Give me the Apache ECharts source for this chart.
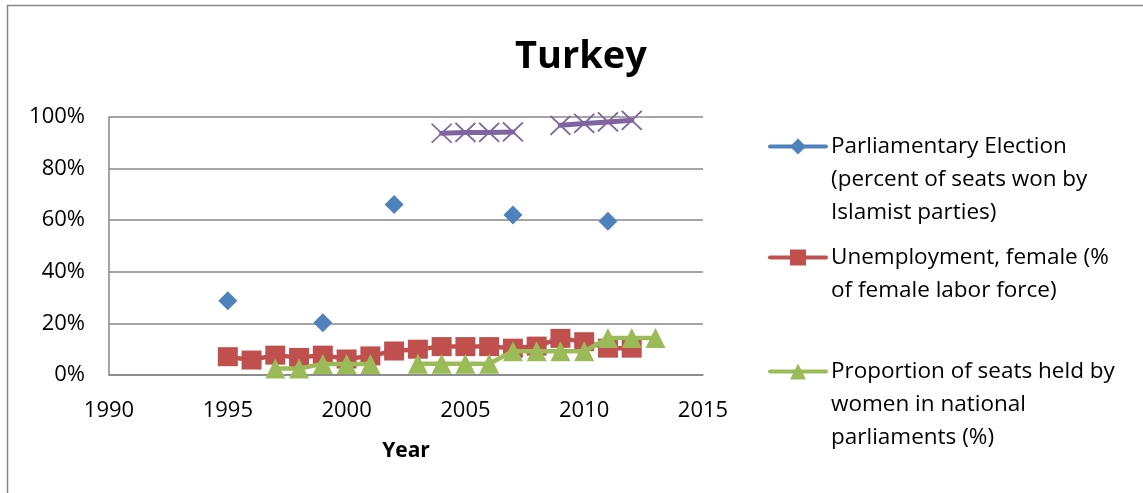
<!DOCTYPE html>
<html>
<head>
<meta charset="utf-8">
<script src="https://cdn.jsdelivr.net/npm/echarts@6/dist/echarts.min.js"></script>
<style>
  html, body { margin: 0; padding: 0; background: #ffffff; }
  #chart { width: 1143px; height: 493px; }
</style>
</head>
<body>
<div id="chart"></div>
<script>
// Years on the horizontal axis
const years = [1995, 1996, 1997, 1998, 1999, 2000, 2001, 2002, 2003, 2004,
               2005, 2006, 2007, 2008, 2009, 2010, 2011, 2012, 2013];

// Parliamentary election: percent of seats won by Islamist parties
const electionSeats = [28.8, null, null, null, 20.3, null, null, 66.1, null, null,
                       null, null, 62.0, null, null, null, 59.6, null, null];

// Unemployment, female (% of female labor force)
const femaleUnemployment = [7.1, 5.8, 7.7, 6.8, 7.7, 6.2, 7.4, 9.3, 10.0, 11.0,
                            11.0, 11.0, 10.4, 11.2, 14.2, 12.9, 10.4, 10.4, null];

// Proportion of seats held by women in national parliaments (%)
const womenSeats = [null, null, 2.5, 2.5, 4.3, 4.3, 4.3, null, 4.4, 4.4,
                    4.4, 4.4, 9.2, 9.2, 9.2, 9.2, 14.3, 14.3, 14.3];

// Fourth series (no legend entry)
const fourthSeries = [null, null, null, null, null, null, null, null, null, 93.7,
                      94.0, 94.0, 94.2, null, 96.8, 97.5, 98.1, 98.7, null];

// Axis ticks
const xTicks = { min: 1990, max: 2015, step: 5 };
const yTicks = { min: 0, max: 100, step: 20 };

const names = [
  'Parliamentary Election\n(percent of seats won by\nIslamist parties)',
  'Unemployment, female (%\nof female labor force)',
  'Proportion of seats held by\nwomen in national\nparliaments (%)'
];

const FONT = '"Open Sans", "Noto Sans", sans-serif';
const GRID_GREY = '#878787';
const LINE_H = 33;

function pairs(vals) {
  return years.map((y, i) => [y, vals[i] === null ? null : vals[i]]);
}

// Each legend entry sits beside the first line of its (multi-line) label:
// leading blank lines push the label's first line onto the icon's row.
function legendFor(name, top) {
  const lines = name.split('\n').length;
  return {
    show: true,
    data: [name],
    orient: 'vertical',
    left: 763,
    top: top,
    itemWidth: 56,
    itemHeight: 20,
    itemGap: 0,
    selectedMode: false,
    formatter: n => '\n'.repeat(lines - 1) + n,
    lineStyle: { width: 4, cap: 'round' },
    textStyle: {
      fontFamily: FONT,
      fontSize: 22.5,
      color: '#000000',
      lineHeight: LINE_H
    }
  };
}

const chart = echarts.init(document.getElementById('chart'), null, { renderer: 'canvas' });

chart.setOption({
  animation: false,
  backgroundColor: '#ffffff',
  title: {
    text: 'Turkey',
    left: 576,
    top: 33,
    textAlign: 'center',
    textStyle: { fontFamily: FONT, fontSize: 38, fontWeight: 'bold', color: '#000000' }
  },
  graphic: [{
    type: 'rect',
    shape: { x: 7.5, y: 5.5, width: 1200, height: 600 },
    style: { fill: 'none', stroke: GRID_GREY, lineWidth: 1.5 },
    silent: true,
    z: -1
  }],
  legend: [
    legendFor(names[0], 59),
    legendFor(names[1], 203),
    legendFor(names[2], 284)
  ],
  grid: { left: 109, right: 440, top: 117, bottom: 118, containLabel: false },
  xAxis: {
    type: 'value',
    min: xTicks.min,
    max: xTicks.max,
    interval: xTicks.step,
    name: 'Year',
    nameLocation: 'middle',
    nameGap: 66,
    nameTextStyle: { fontFamily: FONT, fontSize: 21, fontWeight: 'bold', color: '#000000' },
    axisLine: { lineStyle: { color: GRID_GREY, width: 1.5 } },
    axisTick: { show: false },
    splitLine: { show: false },
    axisLabel: {
      fontFamily: FONT, fontSize: 22, color: '#000000', margin: 25,
      formatter: v => String(v)
    }
  },
  yAxis: {
    type: 'value',
    min: yTicks.min,
    max: yTicks.max,
    interval: yTicks.step,
    axisLine: { show: true, lineStyle: { color: GRID_GREY, width: 1.5 } },
    axisTick: { show: false },
    splitLine: { lineStyle: { color: GRID_GREY, width: 1.5 } },
    axisLabel: {
      fontFamily: FONT, fontSize: 22, color: '#000000', margin: 24,
      formatter: v => v + '%'
    }
  },
  series: [
    {
      name: names[0],
      type: 'line',
      data: pairs(electionSeats),
      connectNulls: false,
      symbol: 'diamond',
      symbolSize: 19,
      itemStyle: { color: '#4F81BD' },
      lineStyle: { color: '#4F81BD', width: 4, cap: 'round' },
      z: 3
    },
    {
      name: names[1],
      type: 'line',
      data: pairs(femaleUnemployment),
      connectNulls: false,
      symbol: 'rect',
      symbolSize: [20, 19],
      itemStyle: { color: '#C0504D' },
      lineStyle: { color: '#C0504D', width: 4.5, cap: 'round' },
      z: 2
    },
    {
      name: names[2],
      type: 'line',
      data: pairs(womenSeats),
      connectNulls: false,
      symbol: 'triangle',
      symbolSize: [20, 20],
      itemStyle: { color: '#9BBB59' },
      lineStyle: { color: '#9BBB59', width: 4.5, cap: 'round' },
      z: 4
    },
    {
      name: 'fourth',
      type: 'line',
      data: pairs(fourthSeries),
      connectNulls: false,
      symbol: 'path://M0,0L10,10M10,0L0,10',
      symbolSize: [20, 19],
      itemStyle: { color: 'rgba(0,0,0,0)', borderColor: '#8064A2', borderWidth: 1.8 },
      lineStyle: { color: '#8064A2', width: 5, cap: 'round' },
      z: 5
    }
  ]
});
</script>
</body>
</html>
